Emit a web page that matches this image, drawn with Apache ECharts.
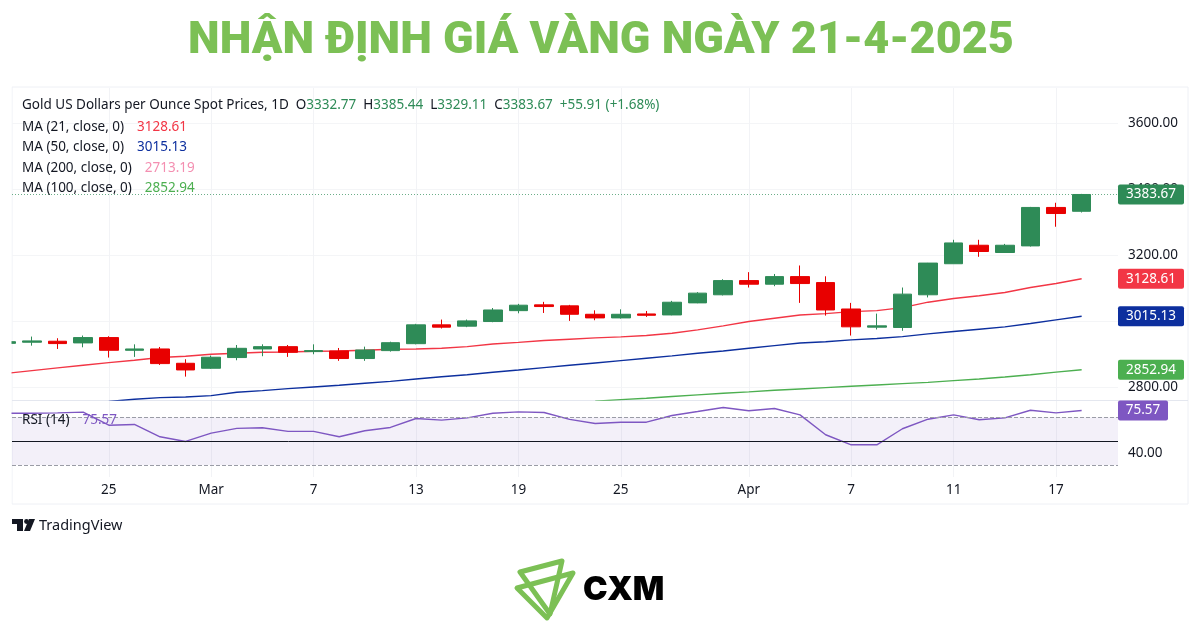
<!DOCTYPE html>
<html>
<head>
<meta charset="utf-8">
<style>html,body{margin:0;padding:0;background:#fff}#chart{width:1200px;height:628px}</style>
<script src="https://cdn.jsdelivr.net/npm/echarts@6/dist/echarts.min.js"></script>
</head>
<body>
<div id="chart"></div>
<script>
// daily candles (index 0 is the cut-off candle at the left edge)
var opens = [2933, 2936.4, 2939.4, 2934.3, 2950.5, 2912, 2916, 2872.7, 2857.6, 2890, 2916, 2923, 2908, 2910, 2887, 2911,
  2932, 2989, 2985, 2999, 3032, 3049.5, 3046.5, 3021, 3010, 3022, 3019, 3055.5, 3080, 3123, 3112, 3135,
  3117, 3037, 2982, 2981, 3080, 3174, 3230, 3208, 3228, 3344.4, 3332.77];
var closes = [2938, 2940.4, 2932.3, 2950.5, 2912, 2916, 2871.7, 2852.5, 2891, 2918, 2923, 2906, 2911, 2887, 2913, 2935,
  2989, 2982, 3001, 3034, 3048.5, 3044.4, 3021, 3010, 3021, 3018, 3057.5, 3085, 3123, 3112, 3135, 3114,
  3034, 2983, 2986, 3082, 3176, 3237, 3211, 3230, 3344.4, 3326, 3383.67];
var lows = [2931, 2926, 2916, 2921, 2890, 2892, 2867.7, 2832.3, 2855.6, 2881.8, 2894, 2892, 2900, 2880, 2880, 2908,
  2930, 2978, 2982, 2997, 3024, 3025, 3001, 3003, 3008, 3013, 3018, 3054.5, 3078, 3102, 3106, 3055.5,
  3017, 2956.6, 2975, 2971, 3072, 3174, 3195, 3208, 3226, 3286, 3329.11];
var highs = [2940, 2953.5, 2948.5, 2956.6, 2954.5, 2930, 2922, 2884.8, 2896, 2928, 2930, 2928, 2930, 2919, 2923, 2938,
  2992, 3005, 3005, 3040, 3052.5, 3058.6, 3049.5, 3033, 3036, 3031, 3061.6, 3088, 3127, 3148.5, 3143, 3168.7,
  3136, 3055.5, 3023, 3102, 3176.5, 3246.5, 3246.5, 3234, 3346, 3358.6, 3385.44];

var ma21 = [2842, 2850.5, 2858.6, 2866.7, 2874.7, 2882, 2890, 2894, 2900, 2903, 2906, 2907, 2909, 2910, 2912, 2915,
  2916, 2918, 2923, 2931, 2936, 2941.4, 2945.5, 2949.5, 2952.5, 2956.6, 2963.6, 2973.7, 2986, 2999, 3009, 3019,
  3023, 3029, 3032, 3041, 3057.6, 3068.7, 3077, 3087, 3102, 3114, 3128.61];
var ma50 = [null, null, null, null, 2757, 2763.6, 2768.7, 2770.7, 2774.7, 2785, 2790, 2796, 2801, 2806, 2812, 2818,
  2825, 2832, 2838, 2845.5, 2852.5, 2859.6, 2866.7, 2873.7, 2880.8, 2887.9, 2895, 2903, 2910, 2918, 2926, 2934,
  2938, 2943.4, 2947.5, 2953.5, 2961.6, 2968.7, 2975.8, 2982.8, 2993, 3004, 3015.13];
var ma100 = [null, null, null, null, null, null, null, null, null, null, null, null, null, null, null, null,
  null, null, null, null, null, null, null, 2758, 2762.6, 2766.7, 2772, 2777, 2782, 2786, 2791, 2795,
  2799, 2803, 2807, 2811, 2815, 2820, 2825, 2831, 2838, 2846, 2852.94];
var rsi = [73.3, 73.3, 73.6, 74.2, 63.3, 63.9, 53.6, 49.7, 56.7, 60.6, 61.1, 58.1, 58.1, 53.6, 58.6, 61.4,
  68.9, 67.5, 69.4, 73.3, 74.4, 73.9, 68.1, 64.7, 65.8, 65.8, 71.4, 74.7, 78.1, 75.3, 77.2, 71.9,
  55.3, 46.9, 46.9, 60.3, 68.3, 71.9, 67.8, 69.4, 75.8, 73.6, 75.57];

var priceTicks = [2800, 3000, 3200, 3400, 3600];
var rsiTicks = [40];
var timeTickIdx = [4, 8, 12, 16, 20, 24, 29, 33, 37, 41];
var timeTickLabels = ['25', 'Mar', '7', '13', '19', '25', 'Apr', '7', '11', '17'];

var lastOhlc = ['3332.77', '3385.44', '3329.11', '3383.67'];
var lastChange = '+55.91 (+1.68%)';
var ma200Last = '2713.19';

var GREEN = '#2e8b57', RED = '#e80000';
var FONT = '"Noto Sans", sans-serif';
var FS = 13.5;
var xMin = 0.219, xMax = 43.42;

function pairs(arr) {
  return arr.map(function (v, i) { return [i, v]; });
}

// price tag sitting on the axis, at the height of the last value
function endTag(value, color, w) {
  var r = w - 2;
  return {
    silent: true,
    symbol: 'path://M2 0H' + r + 'a2 2 0 0 1 2 2V18a2 2 0 0 1-2 2H2a2 2 0 0 1-2-2V2a2 2 0 0 1 2-2Z',
    symbolSize: [w, 20],
    symbolOffset: [w / 2, 0],
    itemStyle: { color: color },
    label: { show: true, position: 'inside', color: '#fff', fontFamily: FONT, fontSize: FS, formatter: value.toFixed(2) },
    data: [{ coord: [xMax, value] }]
  };
}

function maSeries(name, arr, color) {
  return {
    name: name, type: 'line', data: pairs(arr), xAxisIndex: 0, yAxisIndex: 0,
    showSymbol: false, silent: true, smooth: false, z: 1,
    lineStyle: { color: color, width: 1.4 },
    markPoint: endTag(arr[arr.length - 1], color, 66)
  };
}

function run(color, pad) {
  return { color: color, fontFamily: FONT, fontSize: FS, fontWeight: 'normal', padding: [0, 0, 0, pad || 0] };
}

function legendLine(top, label, value, style) {
  return {
    left: 22, top: top, padding: 0,
    text: '{n|' + label + '}  {' + style + '|' + value + '}',
    textStyle: {
      fontWeight: 'normal',
      rich: { n: run('#131722'), r: run('#f23645', 3), b: run('#0d2f9e', 3), p: run('#f48fb1', 3), g: run('#4caf50', 3), v: run('#7e57c2', 3) }
    }
  };
}

var chart = echarts.init(document.getElementById('chart'), null, { renderer: 'canvas' });

chart.setOption({
  animation: false,
  backgroundColor: '#fff',
  title: [
    {
      text: 'NHẬN ĐỊNH GIÁ VÀNG NGÀY 21-4-2025', left: 601, top: 19, textAlign: 'center', padding: 0,
      textStyle: { color: '#7cc055', fontFamily: 'Roboto', fontWeight: 900, fontSize: 45 }
    },
    {
      left: 22, top: 98, padding: 0,
      text: '{n|Gold US Dollars per Ounce Spot Prices, 1D  O}{u|' + lastOhlc[0] + '}{n|  H}{u|' + lastOhlc[1] +
        '}{n|  L}{u|' + lastOhlc[2] + '}{n|  C}{u|' + lastOhlc[3] + '}{u|  ' + lastChange + '}',
      textStyle: { fontWeight: 'normal', rich: { n: run('#131722'), u: run(GREEN) } }
    },
    legendLine(118, 'MA (21, close, 0)', ma21[ma21.length - 1].toFixed(2), 'r'),
    legendLine(138, 'MA (50, close, 0)', ma50[ma50.length - 1].toFixed(2), 'b'),
    legendLine(159, 'MA (200, close, 0)', ma200Last, 'p'),
    legendLine(179, 'MA (100, close, 0)', ma100[ma100.length - 1].toFixed(2), 'g'),
    legendLine(411, 'RSI (14)', rsi[rsi.length - 1].toFixed(2), 'v'),
    {
      left: 39, top: 518, padding: 0, text: 'TradingView',
      textStyle: { color: '#131722', fontFamily: FONT, fontWeight: 400, fontSize: 14.5 }
    },
    {
      left: 583, top: 574, padding: 0, text: 'CXM',
      textStyle: { color: '#000', fontFamily: 'Inter', fontWeight: 900, fontSize: 33 }
    }
  ],
  grid: [
    { left: 12, width: 1106, top: 88, height: 312 },
    { left: 12, width: 1106, top: 401, height: 76 }
  ],
  xAxis: [
    {
      type: 'value', gridIndex: 0, min: xMin, max: xMax,
      axisLine: { show: false }, axisLabel: { show: false },
      axisTick: { show: false, customValues: timeTickIdx },
      splitLine: { show: true, lineStyle: { color: '#f2f3f6', width: 1 } }
    },
    {
      type: 'value', gridIndex: 1, min: xMin, max: xMax,
      axisLine: { show: false },
      axisTick: { show: false, customValues: timeTickIdx },
      axisLabel: {
        customValues: timeTickIdx, margin: 6, color: '#131722', fontFamily: FONT, fontSize: FS,
        formatter: function (v) { return timeTickLabels[timeTickIdx.indexOf(v)]; }
      },
      splitLine: { show: true, lineStyle: { color: '#f2f3f6', width: 1 } }
    }
  ],
  yAxis: [
    {
      type: 'value', gridIndex: 0, position: 'right', min: 2761.5, max: 3706,
      axisLine: { show: false },
      axisTick: { show: false, customValues: priceTicks },
      axisLabel: {
        customValues: priceTicks, margin: 10, color: '#131722', fontFamily: FONT, fontSize: FS,
        formatter: function (v) { return v.toFixed(2); }
      },
      splitLine: { show: true, lineStyle: { color: '#f4f5f7', width: 1 } }
    },
    {
      type: 'value', gridIndex: 1, position: 'right', min: 20, max: 83.5,
      axisLine: { show: false },
      axisTick: { show: false, customValues: rsiTicks },
      axisLabel: {
        customValues: rsiTicks, margin: 10, color: '#131722', fontFamily: FONT, fontSize: FS,
        formatter: function (v) { return v.toFixed(2); }
      },
      splitLine: { show: false }
    }
  ],
  series: [
    maSeries('MA 21', ma21, '#f23645'),
    maSeries('MA 50', ma50, '#0d2f9e'),
    maSeries('MA 100', ma100, '#4caf50'),
    {
      name: 'Gold', type: 'candlestick', xAxisIndex: 0, yAxisIndex: 0, barWidth: 19, z: 3,
      data: opens.map(function (o, i) { return [i, o, closes[i], lows[i], highs[i]]; }),
      itemStyle: { color: GREEN, color0: RED, borderColor: GREEN, borderColor0: RED, borderWidth: 1 },
      markLine: {
        silent: true, symbol: 'none', label: { show: false },
        lineStyle: { color: GREEN, type: [1, 2], width: 1, opacity: 0.7 },
        data: [{ yAxis: closes[closes.length - 1] }]
      },
      markPoint: endTag(closes[closes.length - 1], GREEN, 66)
    },
    {
      name: 'RSI', type: 'line', data: pairs(rsi), xAxisIndex: 1, yAxisIndex: 1,
      showSymbol: false, silent: true, z: 3,
      lineStyle: { color: '#7e57c2', width: 1.4 },
      markArea: {
        silent: true, itemStyle: { color: 'rgba(126,87,194,0.09)' },
        data: [[{ yAxis: 30 }, { yAxis: 70 }]]
      },
      markLine: {
        silent: true, symbol: 'none', label: { show: false },
        data: [
          { yAxis: 70, lineStyle: { color: '#9a9ca6', type: 'dashed', width: 1 } },
          { yAxis: 50, lineStyle: { color: '#131722', type: 'solid', width: 1 } },
          { yAxis: 30, lineStyle: { color: '#9a9ca6', type: 'dashed', width: 1 } }
        ]
      },
      markPoint: endTag(rsi[rsi.length - 1], '#7e57c2', 50)
    }
  ],
  graphic: [
    // candles are not cut at the grid edge, so mask the strip left of the chart
    { type: 'rect', z: 100, shape: { x: 0, y: 80, width: 11.5, height: 430 }, style: { fill: '#fff' } },
    // chart frame and pane divider
    { type: 'rect', z: -1, shape: { x: 12, y: 87, width: 1176, height: 417 }, style: { fill: 'none', stroke: '#eef0f5', lineWidth: 1 } },
    { type: 'line', z: -1, shape: { x1: 12, y1: 400.5, x2: 1188, y2: 400.5 }, style: { stroke: '#e4e7ef', lineWidth: 1 } },
    // TradingView mark
    { type: 'polygon', shape: { points: [[12, 519], [23, 519], [23, 531], [17, 531], [17, 524], [12, 524]] }, style: { fill: '#131722' } },
    { type: 'circle', shape: { cx: 26.5, cy: 521.5, r: 2.4 }, style: { fill: '#131722' } },
    { type: 'polygon', shape: { points: [[29, 519], [35, 519], [30, 531], [24, 531]] }, style: { fill: '#131722' } },
    // CXM mark
    { type: 'polygon', shape: { points: [[520, 572], [562, 561], [550, 614]] }, style: { fill: 'none', stroke: '#7cc055', lineWidth: 5, lineJoin: 'round' } },
    { type: 'polygon', shape: { points: [[517, 588], [573, 573], [547, 618]] }, style: { fill: 'none', stroke: '#7cc055', lineWidth: 5, lineJoin: 'round' } }
  ]
});
</script>
</body>
</html>
